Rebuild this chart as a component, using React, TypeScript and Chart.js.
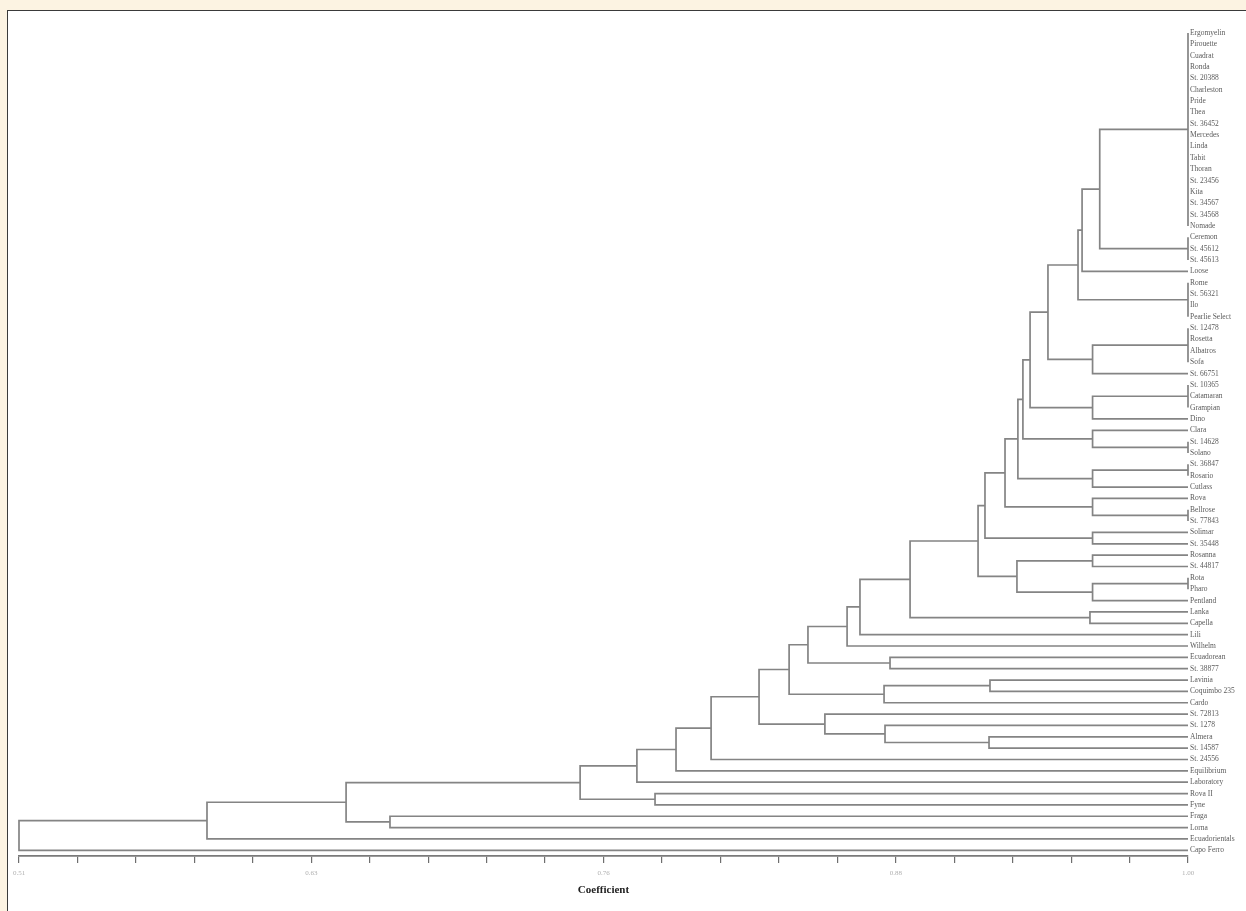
import React, { useEffect, useRef } from "react";
import { Chart, registerables } from "chart.js";
Chart.register(...registerables);

// Leaf (accession) labels, top to bottom
const leafLabels = [
  "Ergomyelin", "Pirouette", "Cuadrat", "Ronda", "St. 20388", "Charleston", "Pride", "Thea", "St. 36452",
  "Mercedes", "Linda", "Tabit", "Thoran", "St. 23456", "Kita", "St. 34567", "St. 34568", "Nomade",
  "Ceremon", "St. 45612", "St. 45613",
  "Loose",
  "Rome", "St. 56321", "Ilo", "Pearlie Select",
  "St. 12478", "Rosetta", "Albatros", "Sofa",
  "St. 66751",
  "St. 10365", "Catamaran", "Grampian",
  "Dino",
  "Clara", "St. 14628", "Solano",
  "St. 36847", "Rosario", "Cutlass",
  "Rova", "Bellrose", "St. 77843",
  "Solimar", "St. 35448",
  "Rosanna", "St. 44817",
  "Rota", "Pharo", "Pentland",
  "Lanka", "Capella",
  "Lili",
  "Wilhelm",
  "Ecuadorean", "St. 38877",
  "Lavinia", "Coquimbo 235", "Cardo",
  "St. 72813", "St. 1278", "Almera", "St. 14587",
  "St. 24556",
  "Equilibrium",
  "Laboratory",
  "Rova II", "Fyne",
  "Fraga", "Lorna",
  "Ecuadorientals",
  "Capo Ferro",
];

// Groups of leaves joined at coefficient 1.00 (first / last leaf index)
const groupFirst = [0, 18, 22, 26, 31, 36, 38, 42, 48];
const groupLast = [17, 20, 25, 29, 33, 37, 39, 43, 49];
const groupCoef = 1.0;
const leafCoef = 1.0;

// Agglomeration steps: left node, right node, coefficient
// node ids: L# leaf, g# identical group, m# earlier merge
const mergeLeft = [
  "g0", "m0", "m1", "g3", "m2", "g4", "m4", "L35", "m6", "g6",
  "m8", "L41", "m10", "L44", "m12", "L46", "g8", "m15", "m14", "L51",
  "m18", "m20", "m21", "L55", "m22", "L57", "m25", "m24", "L62", "L61",
  "L60", "m27", "m31", "m32", "m33", "L67", "m34", "L69", "m36", "m38", "m39",
];
const mergeRight = [
  "g1", "L21", "g2", "L30", "m3", "L34", "m5", "g5", "m7", "L40",
  "m9", "g7", "m11", "L45", "m13", "L47", "L50", "m16", "m17", "L52",
  "m19", "L53", "L54", "L56", "m23", "L58", "L59", "m26", "L63", "m28",
  "m29", "m30", "L64", "L65", "L66", "L68", "m35", "L70", "m37", "L71", "L72",
];
const mergeCoef = [
  0.963, 0.9556, 0.9539, 0.96, 0.9413, 0.96, 0.9338, 0.96, 0.9308, 0.96,
  0.9287, 0.96, 0.9233, 0.96, 0.9149, 0.96, 0.96, 0.9283, 0.912, 0.9589,
  0.8835, 0.8625, 0.8571, 0.8751, 0.8407, 0.917, 0.8726, 0.8328, 0.9166, 0.873,
  0.8478, 0.8202, 0.8001, 0.7854, 0.769, 0.7766, 0.7452, 0.6655, 0.6471, 0.5888, 0.51,
];

// Axis
const axisMin = 0.51;
const axisMax = 1.0;
const majorTickLabels = ["0.51", "0.63", "0.76", "0.88", "1.00"];
const minorPerMajor = 5;
const axisTitle = "Coefficient";

const LINE = "#848484";

function nodePos(id: string, cache: Record<string, { x: number; y: number }>): { x: number; y: number } {
  if (cache[id]) return cache[id];
  const kind = id[0];
  const n = parseInt(id.slice(1), 10);
  let p: { x: number; y: number };
  if (kind === "L") p = { x: leafCoef, y: n };
  else if (kind === "g") p = { x: groupCoef, y: (groupFirst[n] + groupLast[n]) / 2 };
  else {
    const a = nodePos(mergeLeft[n], cache);
    const b = nodePos(mergeRight[n], cache);
    p = { x: mergeCoef[n], y: (a.y + b.y) / 2 };
  }
  cache[id] = p;
  return p;
}

export default function App() {
  const ref = useRef<HTMLCanvasElement | null>(null);
  useEffect(() => {
    if (!ref.current) return;
    const cache: Record<string, { x: number; y: number }> = {};
    const datasets: any[] = [];
    const mk = (pts: { x: number; y: number }[]) => ({
      type: "scatter",
      data: pts,
      showLine: true,
      borderColor: LINE,
      borderWidth: 1.7,
      pointRadius: 0,
      pointHoverRadius: 0,
      tension: 0,
      clip: false,
    });
    groupFirst.forEach((f, i) => {
      datasets.push(mk([{ x: groupCoef, y: f }, { x: groupCoef, y: groupLast[i] }]));
    });
    mergeCoef.forEach((c, i) => {
      const a = nodePos(mergeLeft[i], cache);
      const b = nodePos(mergeRight[i], cache);
      datasets.push(
        mk([
          { x: a.x, y: a.y },
          { x: c, y: a.y },
          { x: c, y: b.y },
          { x: b.x, y: b.y },
        ])
      );
    });

    const nTicks = (majorTickLabels.length - 1) * minorPerMajor + 1;
    const step = (axisMax - axisMin) / (nTicks - 1);

    const chart = new Chart(ref.current, {
      type: "scatter",
      data: { datasets },
      options: {
        animation: false,
        responsive: false,
        events: [],
        layout: { padding: { top: 27.3, left: 19, right: 0, bottom: 0 } },
        plugins: { legend: { display: false }, tooltip: { enabled: false } },
        scales: {
          x: {
            type: "linear",
            position: "bottom",
            min: axisMin,
            max: axisMax,
            afterBuildTicks: (scale: any) => {
              scale.ticks = Array.from({ length: nTicks }, (_, i) => ({ value: axisMin + i * step }));
            },
            afterFit: (scale: any) => {
              scale.height = 55;
            },
            grid: {
              display: true,
              drawOnChartArea: false,
              drawTicks: true,
              tickLength: 7,
              color: "#6f6f6f",
              lineWidth: 1.2,
            },
            border: { display: true, color: "#7a7a7a", width: 1.8 },
            ticks: {
              autoSkip: false,
              maxRotation: 0,
              padding: 6,
              color: "#b0b0b0",
              font: { family: "Liberation Serif", size: 7 },
              callback: (_v: any, i: number) =>
                i % minorPerMajor === 0 ? majorTickLabels[i / minorPerMajor] : "",
            },
            title: {
              display: true,
              text: axisTitle,
              color: "#222",
              font: { family: "Liberation Serif", size: 11, weight: "bold" },
              padding: { top: 0, bottom: 14 },
            },
          },
          y: {
            type: "linear",
            position: "right",
            reverse: true,
            min: -0.5,
            max: leafLabels.length - 0.5,
            afterBuildTicks: (scale: any) => {
              scale.ticks = leafLabels.map((_, i) => ({ value: i }));
            },
            afterFit: (scale: any) => {
              scale.width = 58;
            },
            grid: { display: false },
            border: { display: false },
            ticks: {
              autoSkip: false,
              padding: -6,
              color: "#5a5a5a",
              font: { family: "Liberation Serif", size: 7.5 },
              callback: (v: any) => leafLabels[Math.round(Number(v))] ?? "",
            },
          },
        },
      } as any,
    });
    return () => chart.destroy();
  }, []);

  return (
    <div
      style={{
        position: "absolute",
        left: 0,
        top: 0,
        width: 1246,
        height: 911,
        background: "#fcf3e2",
        overflow: "hidden",
      }}
    >
      <div
        style={{
          position: "absolute",
          left: 7,
          top: 10,
          width: 1270,
          height: 940,
          background: "#ffffff",
          border: "1px solid #3a3a3a",
        }}
      />
      <canvas
        ref={ref}
        width={1246}
        height={911}
        style={{ position: "absolute", left: 0, top: 0, width: 1246, height: 911 }}
      />
    </div>
  );
}
